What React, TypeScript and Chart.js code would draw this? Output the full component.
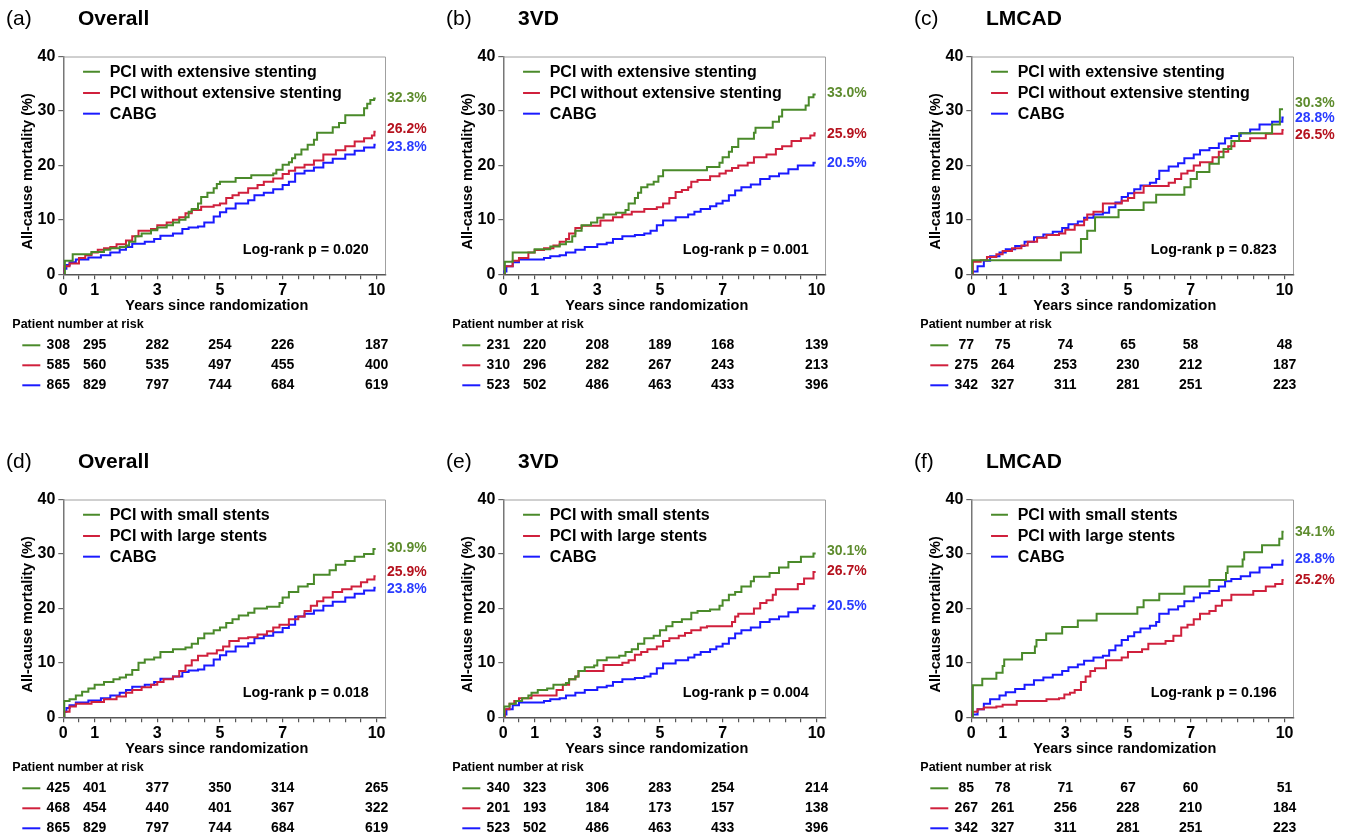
import React, { useEffect, useRef } from "react";
import { Chart, registerables } from "chart.js";

Chart.register(...registerables);

type Pt = [number, number];

// ---------- shared axis data ----------
const X_TICKS = [0, 0.5, 1, 1.5, 2, 2.5, 3, 3.5, 4, 4.5, 5, 5.5, 6, 6.5, 7, 7.5, 8, 8.5, 9, 9.5, 10];
const X_TICK_LABELS = [0, 1, 3, 5, 7, 10];
const Y_TICKS = [0, 10, 20, 30, 40];
const RISK_TIMES = [0, 1, 3, 5, 7, 10];

// ---------- legends ----------
const LEGEND_EXT = ["PCI with extensive stenting", "PCI without extensive stenting", "CABG"];
const LEGEND_SIZE = ["PCI with small stents", "PCI with large stents", "CABG"];

// ---------- curves (years, cumulative mortality %) ----------
const CABG_ALL: Pt[] = [[0,0],[0.03,1.0],[0.1,1.7],[0.2,2.2],[0.4,2.7],[0.8,3.1],[1.2,3.5],[1.5,4.0],[1.8,4.5],[2.0,5.0],[2.2,5.6],[2.6,6.0],[2.9,6.5],[3.1,7.1],[3.5,7.5],[3.8,8.3],[4.0,8.6],[4.3,8.8],[4.5,9.5],[4.8,10.6],[5.0,11.4],[5.2,12.1],[5.5,13.0],[5.9,13.6],[6.1,14.5],[6.4,15.0],[6.7,15.6],[7.0,16.4],[7.2,17.0],[7.4,18.5],[7.7,19.0],[8.0,19.6],[8.3,20.5],[8.6,21.2],[9.0,22.0],[9.3,22.7],[9.6,23.3],[9.93,23.8],[9.97,23.8]];
const CABG_3VD: Pt[] = [[0,0],[0.02,0.5],[0.1,1.5],[0.3,2.2],[0.5,2.7],[1.3,3.0],[1.5,3.3],[1.8,3.5],[2.0,4.0],[2.3,4.5],[2.6,5.0],[3.0,5.5],[3.3,5.8],[3.5,6.5],[3.8,7.0],[4.2,7.2],[4.5,7.5],[4.7,8.0],[4.9,9.0],[5.1,9.9],[5.5,10.5],[5.9,11.0],[6.1,11.5],[6.3,12.0],[6.6,12.5],[6.8,13.0],[7.0,13.5],[7.2,14.5],[7.4,15.4],[7.6,16.0],[7.9,16.5],[8.2,17.5],[8.5,18.0],[8.8,18.5],[9.1,19.3],[9.4,20.0],[9.9,20.5],[9.97,20.5]];
const CABG_LM: Pt[] = [[0,0],[0.03,0.5],[0.2,1.5],[0.4,2.5],[0.6,3.3],[0.9,4.0],[1.1,4.6],[1.4,5.2],[1.7,6.0],[2.0,6.8],[2.3,7.3],[2.6,7.8],[2.9,8.5],[3.1,9.2],[3.4,9.7],[3.6,10.4],[3.9,11.0],[4.2,11.3],[4.4,12.3],[4.6,13.2],[4.8,14.2],[5.0,14.9],[5.2,15.6],[5.4,16.3],[5.7,16.8],[5.9,17.5],[6.0,19.0],[6.3,19.8],[6.6,20.4],[6.8,21.3],[7.1,22.0],[7.3,22.8],[7.6,23.2],[7.9,24.0],[8.1,25.0],[8.3,25.4],[8.6,25.9],[8.9,26.6],[9.2,27.5],[9.6,28.0],[9.93,28.8],[9.97,28.8]];

const A_EXT: Pt[] = [[0,0],[0.05,2.5],[0.3,3.7],[0.9,4.1],[1.3,4.5],[1.5,4.8],[1.8,5.0],[2.0,5.3],[2.1,6.0],[2.3,7.0],[2.5,7.5],[2.8,8.1],[3.0,8.6],[3.3,9.0],[3.5,9.5],[3.7,10.0],[3.9,10.5],[4.0,11.5],[4.1,12.0],[4.3,13.0],[4.4,14.2],[4.6,15.0],[4.8,15.8],[4.9,16.6],[5.0,17.0],[5.5,17.7],[6.0,18.2],[6.7,18.5],[6.8,19.2],[7.0,20.1],[7.2,20.6],[7.3,21.3],[7.4,22.0],[7.6,22.9],[7.8,23.8],[8.0,24.7],[8.1,26.0],[8.6,27.0],[8.8,27.8],[9.0,29.2],[9.6,30.5],[9.7,31.3],[9.8,32.0],[9.92,32.3],[9.97,32.3]];
const A_NOEXT: Pt[] = [[0,0],[0.03,1.5],[0.2,2.0],[0.5,3.0],[0.7,3.5],[0.9,4.0],[1.1,4.5],[1.3,4.8],[1.5,5.0],[1.7,5.5],[2.0,6.2],[2.2,7.0],[2.4,8.0],[2.8,8.3],[3.0,9.0],[3.3,9.5],[3.5,10.0],[3.7,10.5],[3.9,11.2],[4.1,11.8],[4.4,12.4],[4.8,12.7],[5.0,13.0],[5.2,14.0],[5.4,14.5],[5.6,15.0],[5.9,15.8],[6.2,16.4],[6.4,17.0],[6.7,17.6],[7.0,18.4],[7.2,19.0],[7.4,19.6],[7.7,20.1],[8.0,20.9],[8.3,22.0],[8.7,22.8],[9.0,23.5],[9.3,24.4],[9.6,25.0],[9.85,25.5],[9.93,26.2],[9.97,26.2]];

const B_EXT: Pt[] = [[0,0],[0.05,2.3],[0.3,4.0],[1.0,4.6],[1.5,5.1],[1.8,5.5],[2.0,6.0],[2.2,7.0],[2.3,8.0],[2.5,9.0],[2.8,9.5],[3.0,10.4],[3.2,11.0],[3.6,11.3],[3.9,11.8],[4.0,13.0],[4.2,14.0],[4.3,15.0],[4.4,16.0],[4.6,16.5],[4.8,17.0],[4.95,18.0],[5.1,19.1],[6.5,19.7],[6.9,20.5],[7.0,21.5],[7.2,22.5],[7.3,23.4],[7.5,24.9],[8.0,26.0],[8.05,26.9],[8.6,28.0],[8.8,29.0],[8.9,30.2],[9.65,31.0],[9.75,32.5],[9.9,33.0],[9.97,33.0]];
const B_NOEXT: Pt[] = [[0,0],[0.05,1.5],[0.3,2.5],[0.5,3.0],[0.8,4.0],[1.0,4.45],[1.3,4.8],[1.6,5.3],[1.8,6.0],[2.0,6.5],[2.1,7.5],[2.3,8.5],[2.5,8.9],[3.1,9.9],[3.5,10.5],[3.8,11.0],[4.1,11.5],[4.5,12.0],[4.9,12.3],[5.1,13.0],[5.3,14.0],[5.5,15.1],[5.7,15.5],[5.9,16.0],[6.0,17.0],[6.2,17.3],[6.6,18.0],[6.9,18.5],[7.1,19.0],[7.3,19.5],[7.5,20.0],[7.8,20.5],[8.0,21.5],[8.4,22.0],[8.7,23.0],[8.9,23.5],[9.2,24.5],[9.5,25.0],[9.8,25.5],[9.93,25.9],[9.97,25.9]];

const C_EXT: Pt[] = [[0,0],[0.03,2.6],[2.86,4.0],[3.5,6.5],[3.7,8.0],[3.95,10.5],[4.7,11.8],[5.5,13.2],[5.9,14.6],[6.8,16.0],[7.0,17.5],[7.2,18.8],[7.6,20.3],[7.9,21.5],[8.05,23.0],[8.3,24.5],[8.55,25.9],[9.6,27.5],[9.85,30.3],[9.95,30.3]];
const C_NOEXT: Pt[] = [[0,0],[0.05,2.3],[0.3,2.6],[0.5,3.2],[0.8,3.7],[1.0,4.3],[1.3,4.8],[1.6,5.3],[1.8,6.0],[2.1,6.7],[2.4,7.2],[2.8,7.5],[3.0,8.2],[3.3,9.0],[3.6,10.0],[3.7,11.0],[3.9,11.5],[4.2,13.0],[4.8,13.5],[5.0,14.0],[5.2,15.0],[5.5,16.2],[6.3,16.8],[6.5,17.5],[6.7,18.5],[6.9,19.0],[7.1,20.0],[7.3,20.6],[7.7,21.5],[7.9,22.5],[8.2,23.5],[8.4,24.5],[8.9,25.0],[9.4,25.8],[9.93,26.5],[9.97,26.5]];

const D_SMALL: Pt[] = [[0,0],[0.03,3.0],[0.2,3.3],[0.4,4.0],[0.6,4.7],[0.8,5.3],[1.0,6.0],[1.3,6.5],[1.6,7.0],[1.8,7.3],[2.0,7.8],[2.2,8.7],[2.4,10.0],[2.6,10.6],[2.9,11.0],[3.1,12.0],[3.5,12.5],[3.9,12.8],[4.1,13.5],[4.3,14.5],[4.5,15.4],[4.8,16.0],[5.0,16.5],[5.2,17.3],[5.4,18.0],[5.6,18.7],[5.9,19.2],[6.1,20.0],[6.5,20.3],[6.9,21.0],[7.0,22.0],[7.2,23.0],[7.5,24.0],[7.8,24.5],[8.0,26.2],[8.5,27.0],[8.7,28.0],[9.0,28.7],[9.3,29.5],[9.6,30.0],[9.9,30.9],[9.97,30.9]];
const D_LARGE: Pt[] = [[0,0],[0.03,1.0],[0.2,2.0],[0.4,2.5],[0.9,2.8],[1.3,3.3],[1.7,3.8],[2.0,4.5],[2.2,5.0],[2.5,5.5],[2.8,6.0],[3.0,6.5],[3.2,7.0],[3.5,7.5],[3.7,8.5],[3.9,9.5],[4.1,10.5],[4.3,11.3],[4.6,11.7],[4.9,12.3],[5.1,13.0],[5.3,14.0],[5.6,14.5],[5.9,14.7],[6.2,15.2],[6.5,15.8],[6.7,16.5],[6.9,17.0],[7.2,18.0],[7.5,18.5],[7.7,19.5],[7.9,20.5],[8.1,21.3],[8.3,22.0],[8.6,23.0],[8.9,23.5],[9.2,24.0],[9.5,24.8],[9.7,25.3],[9.93,25.9],[9.97,25.9]];

const E_SMALL: Pt[] = [[0,0],[0.03,2.0],[0.2,2.5],[0.4,3.0],[0.6,3.5],[0.8,4.0],[0.9,4.5],[1.1,5.0],[1.4,5.3],[1.6,6.0],[2.0,6.3],[2.1,7.0],[2.3,7.5],[2.4,8.5],[2.6,9.2],[2.9,9.5],[3.0,10.5],[3.3,11.0],[3.7,11.3],[3.9,12.0],[4.1,12.5],[4.3,13.5],[4.5,14.5],[4.8,15.0],[5.0,16.0],[5.2,16.7],[5.4,17.5],[5.7,18.0],[6.0,19.2],[6.2,19.5],[6.6,19.8],[6.9,20.5],[7.0,21.5],[7.2,22.5],[7.4,23.0],[7.6,24.0],[7.9,25.0],[8.0,25.8],[8.5,26.5],[8.8,27.5],[9.1,28.5],[9.5,29.5],[9.9,30.1],[9.97,30.1]];
const E_LARGE: Pt[] = [[0,0],[0.05,1.5],[0.2,2.5],[0.35,3.0],[0.5,3.5],[0.9,4.0],[1.7,5.0],[1.9,6.0],[2.1,7.0],[2.3,7.5],[2.4,8.5],[3.2,9.6],[3.8,10.0],[4.0,10.5],[4.2,11.5],[4.4,12.0],[4.6,12.5],[4.9,13.0],[5.1,14.0],[5.3,14.5],[5.6,15.0],[5.8,15.5],[6.0,16.0],[6.3,16.5],[6.5,16.7],[7.3,17.5],[7.4,18.5],[7.5,19.0],[8.0,20.0],[8.2,21.0],[8.4,21.5],[8.6,22.5],[8.7,23.5],[9.4,24.5],[9.6,25.5],[9.9,26.7],[9.97,26.7]];

const F_SMALL: Pt[] = [[0,0],[0.05,5.9],[0.35,7.1],[0.8,8.2],[1.0,9.4],[1.05,10.6],[1.62,11.8],[2.03,13.0],[2.08,14.2],[2.39,15.4],[2.9,16.6],[3.4,17.8],[4.0,19.0],[5.3,20.2],[5.5,21.5],[6.0,22.7],[6.8,24.0],[7.6,25.2],[8.13,26.5],[8.18,27.7],[8.66,29.0],[8.71,30.3],[9.28,31.6],[9.83,32.8],[9.93,34.1],[9.97,34.1]];
const F_LARGE: Pt[] = [[0,0],[0.03,1.0],[0.2,1.5],[0.4,1.8],[0.8,2.0],[1.0,2.3],[1.45,3.0],[2.4,3.3],[2.8,3.5],[2.97,4.2],[3.15,4.5],[3.3,5.0],[3.5,6.5],[3.65,7.5],[3.8,8.5],[3.95,9.0],[4.3,10.5],[4.8,11.0],[5.0,12.0],[5.45,12.5],[5.65,13.5],[6.2,14.0],[6.45,15.0],[6.7,16.5],[6.9,17.0],[7.1,18.0],[7.3,19.0],[7.6,19.5],[7.8,20.5],[8.0,21.5],[8.3,22.5],[9.0,23.2],[9.4,24.0],[9.7,24.5],[9.93,25.2],[9.97,25.2]];

// ---------- 10-year estimates and where their labels sit (value axis) ----------
const A_END = ["32.3%", "26.2%", "23.8%"]; const A_END_AT = [32.4, 26.6, 23.3];
const B_END = ["33.0%", "25.9%", "20.5%"]; const B_END_AT = [33.3, 25.7, 20.4];
const C_END = ["30.3%", "26.5%", "28.8%"]; const C_END_AT = [31.4, 25.6, 28.7];
const D_END = ["30.9%", "25.9%", "23.8%"]; const D_END_AT = [31.1, 26.7, 23.5];
const E_END = ["30.1%", "26.7%", "20.5%"]; const E_END_AT = [30.5, 26.8, 20.4];
const F_END = ["34.1%", "25.2%", "28.8%"]; const F_END_AT = [34.0, 25.2, 29.0];

// ---------- log-rank p values ----------
const P_VALUES = ["0.020", "0.001", "0.823", "0.018", "0.004", "0.196"];

// ---------- numbers at risk ----------
const A_RISK = [[308, 295, 282, 254, 226, 187], [585, 560, 535, 497, 455, 400], [865, 829, 797, 744, 684, 619]];
const B_RISK = [[231, 220, 208, 189, 168, 139], [310, 296, 282, 267, 243, 213], [523, 502, 486, 463, 433, 396]];
const C_RISK = [[77, 75, 74, 65, 58, 48], [275, 264, 253, 230, 212, 187], [342, 327, 311, 281, 251, 223]];
const D_RISK = [[425, 401, 377, 350, 314, 265], [468, 454, 440, 401, 367, 322], [865, 829, 797, 744, 684, 619]];
const E_RISK = [[340, 323, 306, 283, 254, 214], [201, 193, 184, 173, 157, 138], [523, 502, 486, 463, 433, 396]];
const F_RISK = [[85, 78, 71, 67, 60, 51], [267, 261, 256, 228, 210, 184], [342, 327, 311, 281, 251, 223]];

// ---------- styling ----------
const FONT = '"Liberation Sans", Arial, Helvetica, sans-serif';
const LINE_COLORS = ["#4a8a2a", "#d0203c", "#1a1aff"];
const TEXT_COLORS = ["#5e8c2e", "#b5121e", "#2a3cff"];
const LEGEND_ROWS = [37.2, 33.3, 29.5];

interface PanelDef {
  letter: string;
  title: string;
  legend: string[];
  series: Pt[][];
  ends: string[];
  endAt: number[];
  endColors: number[];
  p: string;
  risk: number[][];
}

const PANELS: PanelDef[] = [
  { letter: "(a)", title: "Overall", legend: LEGEND_EXT, series: [A_EXT, A_NOEXT, CABG_ALL], ends: A_END, endAt: A_END_AT, endColors: [0, 1, 2], p: P_VALUES[0], risk: A_RISK },
  { letter: "(b)", title: "3VD", legend: LEGEND_EXT, series: [B_EXT, B_NOEXT, CABG_3VD], ends: B_END, endAt: B_END_AT, endColors: [0, 1, 2], p: P_VALUES[1], risk: B_RISK },
  { letter: "(c)", title: "LMCAD", legend: LEGEND_EXT, series: [C_EXT, C_NOEXT, CABG_LM], ends: C_END, endAt: C_END_AT, endColors: [0, 1, 2], p: P_VALUES[2], risk: C_RISK },
  { letter: "(d)", title: "Overall", legend: LEGEND_SIZE, series: [D_SMALL, D_LARGE, CABG_ALL], ends: D_END, endAt: D_END_AT, endColors: [0, 1, 2], p: P_VALUES[3], risk: D_RISK },
  { letter: "(e)", title: "3VD", legend: LEGEND_SIZE, series: [E_SMALL, E_LARGE, CABG_3VD], ends: E_END, endAt: E_END_AT, endColors: [0, 1, 2], p: P_VALUES[4], risk: E_RISK },
  { letter: "(f)", title: "LMCAD", legend: LEGEND_SIZE, series: [F_SMALL, F_LARGE, CABG_LM], ends: F_END, endAt: F_END_AT, endColors: [0, 1, 2], p: P_VALUES[5], risk: F_RISK },
];

// layout of the six canvases
const PANEL_LEFT = [0, 440, 908, 0, 440, 908];
const PANEL_TOP = [0, 0, 0, 443, 443, 443];
const CW = 440;
const CH = 393;
const PLOT_TOP = 56.5;
const PLOT_BOTTOM = 274.3;
const PLOT_LEFT = 63.3;
const PLOT_RIGHT = 386;

function makeOverlay(def: PanelDef) {
  return {
    id: "kmOverlay",
    afterDraw(chart: any) {
      const { ctx, chartArea: ca, scales } = chart;
      const xs = scales.x;
      const ys = scales.y;
      ctx.save();
      // top / right frame
      ctx.strokeStyle = "#a0a0a0";
      ctx.lineWidth = 1;
      ctx.beginPath();
      ctx.moveTo(ca.left, ca.top + 0.5);
      ctx.lineTo(ca.right - 0.5, ca.top + 0.5);
      ctx.lineTo(ca.right - 0.5, ca.bottom);
      ctx.stroke();

      // panel title
      ctx.fillStyle = "#000";
      ctx.textBaseline = "middle";
      ctx.textAlign = "left";
      ctx.font = `21px ${FONT}`;
      ctx.fillText(def.letter, 6, 19);
      ctx.font = `bold 21px ${FONT}`;
      ctx.fillText(def.title, 78, 19);

      // y title
      ctx.save();
      ctx.translate(28, (ca.top + ca.bottom) / 2 + 6);
      ctx.rotate(-Math.PI / 2);
      ctx.textAlign = "center";
      ctx.font = `bold 14.5px ${FONT}`;
      ctx.fillText("All-cause mortality (%)", 0, 0);
      ctx.restore();

      // x title
      ctx.textAlign = "center";
      ctx.font = `bold 14.5px ${FONT}`;
      ctx.fillText("Years since randomization", xs.getPixelForValue(4.9), ca.bottom + 32);

      // legend
      def.legend.forEach((name, i) => {
        const y = ys.getPixelForValue(LEGEND_ROWS[i]);
        ctx.strokeStyle = LINE_COLORS[i];
        ctx.lineWidth = 2;
        ctx.beginPath();
        ctx.moveTo(xs.getPixelForValue(0.63), y);
        ctx.lineTo(xs.getPixelForValue(1.17), y);
        ctx.stroke();
        ctx.fillStyle = "#000";
        ctx.textAlign = "left";
        ctx.font = `bold 16px ${FONT}`;
        ctx.fillText(name, xs.getPixelForValue(1.48), y + 1);
      });

      // 10-year labels
      ctx.font = `bold 14px ${FONT}`;
      ctx.textAlign = "left";
      def.ends.forEach((txt, i) => {
        ctx.fillStyle = TEXT_COLORS[def.endColors[i]];
        ctx.fillText(txt, ca.right + 1, ys.getPixelForValue(def.endAt[i]));
      });

      // log-rank
      ctx.fillStyle = "#000";
      ctx.textAlign = "right";
      ctx.font = `bold 14.3px ${FONT}`;
      ctx.fillText(`Log-rank p = ${def.p}`, xs.getPixelForValue(9.75), ys.getPixelForValue(4.5));

      // risk table
      ctx.textAlign = "left";
      ctx.font = `bold 12.5px ${FONT}`;
      ctx.fillText("Patient number at risk", ca.left - 51, ca.bottom + 50);
      ctx.font = `bold 14px ${FONT}`;
      ctx.textAlign = "center";
      def.risk.forEach((row, r) => {
        const y = ca.bottom + 71 + r * 20;
        ctx.strokeStyle = LINE_COLORS[r];
        ctx.lineWidth = 2;
        ctx.beginPath();
        ctx.moveTo(ca.left - 41, y);
        ctx.lineTo(ca.left - 23, y);
        ctx.stroke();
        ctx.fillStyle = "#000";
        row.forEach((n, k) => {
          const x = xs.getPixelForValue(RISK_TIMES[k]) + (k === 0 ? -5 : 0);
          ctx.fillText(String(n), x, y);
        });
      });
      ctx.restore();
    },
  };
}

function Panel({ def, left, top }: { def: PanelDef; left: number; top: number }) {
  const ref = useRef<HTMLCanvasElement>(null);
  useEffect(() => {
    const canvas = ref.current!;
    const tickFont = { family: FONT, size: 16, weight: "bold" as const };
    const chart = new Chart(canvas, {
      type: "line",
      data: {
        datasets: def.series.map((s, i) => ({
          data: s.map(([x, y]) => ({ x, y })),
          borderColor: LINE_COLORS[i],
          backgroundColor: LINE_COLORS[i],
          borderWidth: 2,
          pointRadius: 0,
          stepped: "before" as const,
          fill: false,
        })),
      },
      options: {
        animation: false,
        responsive: false,
        maintainAspectRatio: false,
        devicePixelRatio: 1,
        events: [],
        layout: { padding: { left: 0, right: CW - PLOT_RIGHT, top: PLOT_TOP, bottom: 0 } },
        plugins: { legend: { display: false }, tooltip: { enabled: false }, title: { display: false } },
        scales: {
          x: {
            type: "linear",
            min: 0,
            max: 10.3,
            afterFit: (s: any) => { s.height = CH - PLOT_BOTTOM; },
            afterBuildTicks: (s: any) => { s.ticks = X_TICKS.map((v) => ({ value: v })); },
            ticks: {
              autoSkip: false,
              maxRotation: 0,
              color: "#000",
              padding: 2,
              font: tickFont,
              callback: (v: any) => (X_TICK_LABELS.includes(Number(v)) ? String(v) : ""),
            },
            grid: { drawOnChartArea: false, drawTicks: true, tickLength: 5, color: "#555", lineWidth: 1.2 },
            border: { color: "#555", width: 1.5 },
          },
          y: {
            type: "linear",
            min: 0,
            max: 40,
            afterFit: (s: any) => { s.width = PLOT_LEFT; },
            afterBuildTicks: (s: any) => { s.ticks = Y_TICKS.map((v) => ({ value: v })); },
            ticks: { color: "#000", padding: 3, font: tickFont },
            grid: { drawOnChartArea: false, drawTicks: true, tickLength: 5, color: "#666", lineWidth: 1.2 },
            border: { color: "#777", width: 1.5 },
          },
        },
      },
      plugins: [makeOverlay(def)],
    } as any);
    return () => chart.destroy();
  }, [def]);
  return (
    <canvas
      ref={ref}
      width={CW}
      height={CH}
      style={{ position: "absolute", left, top, width: CW, height: CH }}
    />
  );
}

export default function App() {
  return (
    <div style={{ position: "absolute", left: 0, top: 0, width: 1349, height: 836, background: "#fff", overflow: "hidden" }}>
      {PANELS.map((def, i) => (
        <Panel key={i} def={def} left={PANEL_LEFT[i]} top={PANEL_TOP[i]} />
      ))}
    </div>
  );
}
